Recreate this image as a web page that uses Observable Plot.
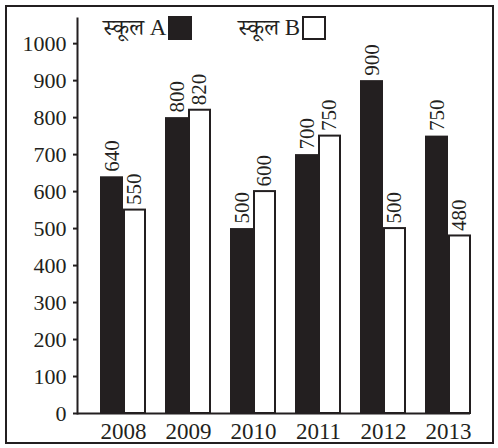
<!DOCTYPE html>
<html>
<head>
<meta charset="utf-8">
<script src="https://cdn.jsdelivr.net/npm/d3@7"></script>
<script src="https://cdn.jsdelivr.net/npm/@observablehq/plot@0.6"></script>
<style>
  body { margin: 0; background: #fff; }
  #wrap { position: relative; width: 498px; height: 448px; }
  #frame { position: absolute; left: 5px; top: 5px; width: 485px; height: 435px; border: 2px solid #231f20; pointer-events: none; }
  .leg { position: absolute; top: 14px; font-family: "Liberation Serif", "Noto Serif Devanagari", "Noto Sans Devanagari", serif; font-size: 23px; color: #231f20; display: flex; align-items: center; line-height: 28px; }
  .sw { display: inline-block; width: 24px; height: 24px; box-sizing: border-box; margin-left: 2px; }
</style>
</head>
<body>
<div id="wrap"></div>
<script>
const years = ["2008", "2009", "2010", "2011", "2012", "2013"];
const schoolA = [640, 800, 500, 700, 900, 750];
const schoolB = [550, 820, 600, 750, 500, 480];
const yTicks = [0, 100, 200, 300, 400, 500, 600, 700, 800, 900, 1000];
const seriesNames = ["स्कूल A", "स्कूल B"];
const seriesFill = ["#231f20", "#ffffff"];

const dataA = years.map((y, i) => ({year: y, value: schoolA[i]}));
const dataB = years.map((y, i) => ({year: y, value: schoolB[i]}));
const ink = "#231f20";
const serif = "'Liberation Serif', 'Times New Roman', serif";

const chart = Plot.plot({
  width: 498,
  height: 448,
  marginLeft: 77,
  marginRight: 28,
  marginTop: 18,
  marginBottom: 35,
  style: {fontFamily: serif, fontSize: "22px", color: ink, background: "transparent"},
  x: {domain: years, type: "band", paddingInner: 0.30, paddingOuter: 0.137, align: 1, label: null},
  y: {domain: [0, 1068], label: null},
  marks: [
    Plot.barY(dataA, {x: "year", y: "value", fill: seriesFill[0], insetRight: 23}),
    Plot.barY(dataB, {x: "year", y: "value", fill: seriesFill[1], stroke: ink, strokeWidth: 2, insetLeft: 24, insetRight: 1}),
    Plot.text(dataA, {x: "year", y: "value", text: d => String(d.value), rotate: -90, textAnchor: "start", dx: -11, dy: -5, fontFamily: serif, fontSize: 21, fill: ink}),
    Plot.text(dataB, {x: "year", y: "value", text: d => String(d.value), rotate: -90, textAnchor: "start", dx: 11, dy: -5, fontFamily: serif, fontSize: 21, fill: ink}),
    Plot.ruleY([0], {stroke: ink, strokeWidth: 2}),
    Plot.frame({anchor: "left", stroke: ink, strokeWidth: 2}),
    Plot.axisY({ticks: yTicks, tickSize: 4, tickPadding: 7, tickFormat: d => String(d), stroke: ink, strokeWidth: 2, fontSize: 22, fontFamily: serif, label: null}),
    Plot.axisX({tickSize: 0, tickPadding: 9, fontSize: 23, fontFamily: serif, label: null})
  ]
});

const wrap = document.getElementById("wrap");
wrap.appendChild(chart);

const legendLeft = [103, 238];
seriesNames.forEach((name, i) => {
  const d = document.createElement("div");
  d.className = "leg";
  d.style.left = legendLeft[i] + "px";
  const t = document.createElement("span");
  t.textContent = name;
  const s = document.createElement("span");
  s.className = "sw";
  s.style.background = seriesFill[i];
  s.style.border = "2px solid " + ink;
  d.appendChild(t);
  d.appendChild(s);
  wrap.appendChild(d);
});

const fr = document.createElement("div");
fr.id = "frame";
wrap.appendChild(fr);
</script>
</body>
</html>
